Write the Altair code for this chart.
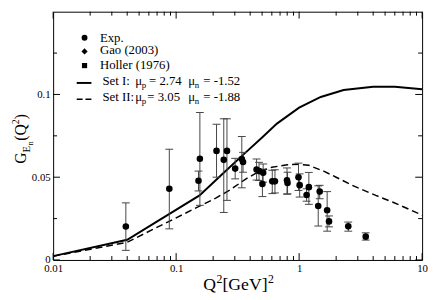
import altair as alt
import pandas as pd

# ---------------- data ----------------
exp_q2 = [0.039, 0.088, 0.152, 0.156, 0.213, 0.244, 0.259, 0.302, 0.342, 0.350,
          0.451, 0.472, 0.503, 0.510, 0.605, 0.636, 0.797, 0.805, 0.988, 1.01,
          1.15, 1.20, 1.43, 1.47, 1.69, 1.75, 2.51, 3.48]
exp_g = [0.0202, 0.0430, 0.0479, 0.0612, 0.0659, 0.0605, 0.0659, 0.0552, 0.0610, 0.0592,
         0.0547, 0.0537, 0.0459, 0.0527, 0.0475, 0.0475, 0.0481, 0.0465, 0.0500, 0.0452,
         0.0393, 0.0440, 0.0326, 0.0413, 0.0300, 0.0233, 0.0203, 0.0141]
exp_lo = [0.0058, 0.0188, 0.0417, 0.0330, 0.0500, 0.0287, 0.0360, 0.0490, 0.0436, 0.0530,
          0.0483, 0.0480, 0.0383, 0.0470, 0.0401, 0.0405, 0.0397, 0.0400, 0.0420, 0.0380,
          0.0355, 0.0336, 0.0205, 0.0370, 0.0174, 0.0200, 0.0174, 0.0120]
exp_hi = [0.0345, 0.0669, 0.0537, 0.0891, 0.0820, 0.0853, 0.0853, 0.0614, 0.0746, 0.0650,
          0.0610, 0.0590, 0.0549, 0.0580, 0.0542, 0.0545, 0.0556, 0.0530, 0.0585, 0.0520,
          0.0430, 0.0529, 0.0448, 0.0451, 0.0413, 0.0266, 0.0229, 0.0164]

set1_q2 = [0.01, 0.04, 0.155, 0.25, 0.35, 0.5, 0.66, 1.0, 1.5, 2.3, 4.0, 6.0, 10.0]
set1_g = [0.0023, 0.0122, 0.0390, 0.0535, 0.0635, 0.0740, 0.0824, 0.0920, 0.0985,
          0.1027, 0.1047, 0.1047, 0.1031]

set2_q2 = [0.01, 0.04, 0.155, 0.21, 0.27, 0.37, 0.46, 0.6, 0.8, 1.0, 1.2, 1.6, 2.0,
           2.8, 4.2, 5.8, 10.0]
set2_g = [0.0023, 0.0107, 0.0325, 0.0374, 0.0420, 0.0490, 0.0530, 0.0560, 0.0575,
          0.0578, 0.0572, 0.0535, 0.0500, 0.0446, 0.0390, 0.0349, 0.0271]

x_major_ticks = [0.01, 0.1, 1, 10]
x_minor_ticks = [0.02, 0.03, 0.04, 0.05, 0.06, 0.07, 0.08, 0.09,
                 0.2, 0.3, 0.4, 0.5, 0.6, 0.7, 0.8, 0.9,
                 2, 3, 4, 5, 6, 7, 8, 9]
y_major_ticks = [0, 0.05, 0.1]
y_minor_ticks = [0.025, 0.075, 0.125]

# ---------------- layout ----------------
W, H = 376, 253
FONT = "Liberation Serif"
ERR = "#444444"

xscale = alt.Scale(type="log", domain=[0.01, 10], nice=False)
yscale = alt.Scale(domain=[0, 0.15], nice=False, zero=False)

exp_df = pd.DataFrame({"q2": exp_q2, "g": exp_g, "lo": exp_lo, "hi": exp_hi})
s1 = pd.DataFrame({"q2": set1_q2, "g": set1_g})
s2 = pd.DataFrame({"q2": set2_q2, "g": set2_g})
one = pd.DataFrame({"a": [0]})

xax = alt.Axis(values=x_major_ticks, format="~g", ticks=False, domain=False, grid=False,
               labelFont=FONT, labelFontSize=11, labelColor="black", labelPadding=3,
               labelFlush=False, labelOverlap=False, title=None)
yax = alt.Axis(values=y_major_ticks, format="~g", ticks=False, domain=False, grid=False,
               labelFont=FONT, labelFontSize=11, labelColor="black", labelPadding=3,
               labelFlush=False, labelOverlap=False, title=None)


def X(field="q2"):
    return alt.X(f"{field}:Q", scale=xscale, axis=xax)


def Y(field="g"):
    return alt.Y(f"{field}:Q", scale=yscale, axis=yax)


layers = []


# ticks (inward, all four sides)
def xticks(vals, length):
    df = pd.DataFrame({"q2": vals})
    b = alt.Chart(df).mark_rule(color="black", strokeWidth=1).encode(
        x=X(), y=alt.value(H), y2=alt.value(H - length))
    t = alt.Chart(df).mark_rule(color="black", strokeWidth=1).encode(
        x=X(), y=alt.value(0), y2=alt.value(length))
    return [b, t]


def yticks(vals, length):
    df = pd.DataFrame({"g": vals})
    l = alt.Chart(df).mark_rule(color="black", strokeWidth=1).encode(
        y=Y(), x=alt.value(0), x2=alt.value(length))
    r = alt.Chart(df).mark_rule(color="black", strokeWidth=1).encode(
        y=Y(), x=alt.value(W), x2=alt.value(W - length))
    return [l, r]


# curves first (carry the axes)
layers.append(alt.Chart(s1).mark_line(color="black", strokeWidth=2).encode(x=X(), y=Y()))
layers.append(alt.Chart(s2).mark_line(color="black", strokeWidth=1.5, strokeDash=[7, 4]).encode(
    x=X(), y=Y()))

layers += xticks(x_major_ticks, 7) + xticks(x_minor_ticks, 4)
layers += yticks(y_major_ticks, 7) + yticks(y_minor_ticks, 4)

# error bars
layers.append(alt.Chart(exp_df).mark_rule(color=ERR, strokeWidth=1).encode(
    x=X(), y=Y("lo"), y2="hi:Q"))
for col in ["lo", "hi"]:
    layers.append(alt.Chart(exp_df).mark_point(shape="M-1,0H1", size=64, filled=False,
                                               stroke=ERR, strokeWidth=1, opacity=1).encode(
        x=X(), y=Y(col)))

# points
layers.append(alt.Chart(exp_df).mark_point(shape="circle", size=45, filled=True,
                                           color="black", opacity=1).encode(x=X(), y=Y()))

# legend symbols
for shp, yy, sz in [("circle", 26.5, 36), ("diamond", 40.5, 40), ("square", 54.9, 28)]:
    layers.append(alt.Chart(one).mark_point(shape=shp, size=sz, filled=True, color="black",
                                            opacity=1).encode(x=alt.value(32), y=alt.value(yy)))
layers.append(alt.Chart(one).mark_rule(color="black", strokeWidth=2).encode(
    x=alt.value(24), x2=alt.value(39), y=alt.value(72.6)))
layers.append(alt.Chart(one).mark_rule(color="black", strokeWidth=1.5, strokeDash=[6, 3]).encode(
    x=alt.value(24), x2=alt.value(39), y=alt.value(89.2)))


# texts
def txt(s, x, y, size, angle=0):
    kw = dict(align="left", baseline="alphabetic", font=FONT, fontSize=size, color="black", text=s)
    if angle:
        kw["angle"] = angle
    return alt.Chart(one).mark_text(**kw).encode(x=alt.value(x), y=alt.value(y))


legend_texts = [
    ("Exp.", 47.7, 30.4, 13), ("Gao (2003)", 47.7, 43.6, 13), ("Holler (1976)", 47.7, 57.9, 13),
    ("Set I:", 50.3, 74.5, 13), ("\u03bc", 83.7, 74.5, 13), ("p", 90.2, 77.5, 9),
    ("= 2.74", 97.7, 74.5, 13), ("\u03bc", 137.7, 74.5, 13), ("n", 144.2, 77.5, 9),
    ("= -1.52", 153, 74.5, 13),
    ("Set II:", 50.3, 91.2, 13), ("\u03bc", 83.7, 91.2, 13), ("p", 90.2, 94.2, 9),
    ("= 3.05", 96, 91.2, 13), ("\u03bc", 137.7, 91.2, 13), ("n", 144.2, 94.2, 9),
    ("= -1.88", 153, 91.2, 13),
]
for s, x, y, sz in legend_texts:
    layers.append(txt(s, x, y, sz))

# x title: Q^2[GeV]^2
for s, x, y, sz in [("Q", 153, 284, 18), ("2", 166.5, 276, 12), ("[GeV]", 172.5, 284, 18),
                    ("2", 219, 276, 12)]:
    layers.append(txt(s, x, y, sz))

# y title: G_{E_n}(Q^2), rotated
for s, x, y, sz in [("G", -28, 155, 16), ("E", -24, 143.4, 11), ("n", -21, 136.2, 8),
                    ("(", -28, 131.5, 16), ("Q", -28, 126.2, 16), ("2", -34.5, 114.7, 10),
                    (")", -28, 109.5, 16)]:
    layers.append(txt(s, x, y, sz, angle=270))

chart = alt.layer(*layers).properties(
    width=W, height=H,
    autosize=alt.AutoSizeParams(type="none"),
    padding={"left": 46, "top": 1, "right": 6, "bottom": 37},
    background="white",
).configure_view(stroke="black", strokeWidth=1)

chart.save("out.html", embed_options={"renderer": "svg", "actions": False})
